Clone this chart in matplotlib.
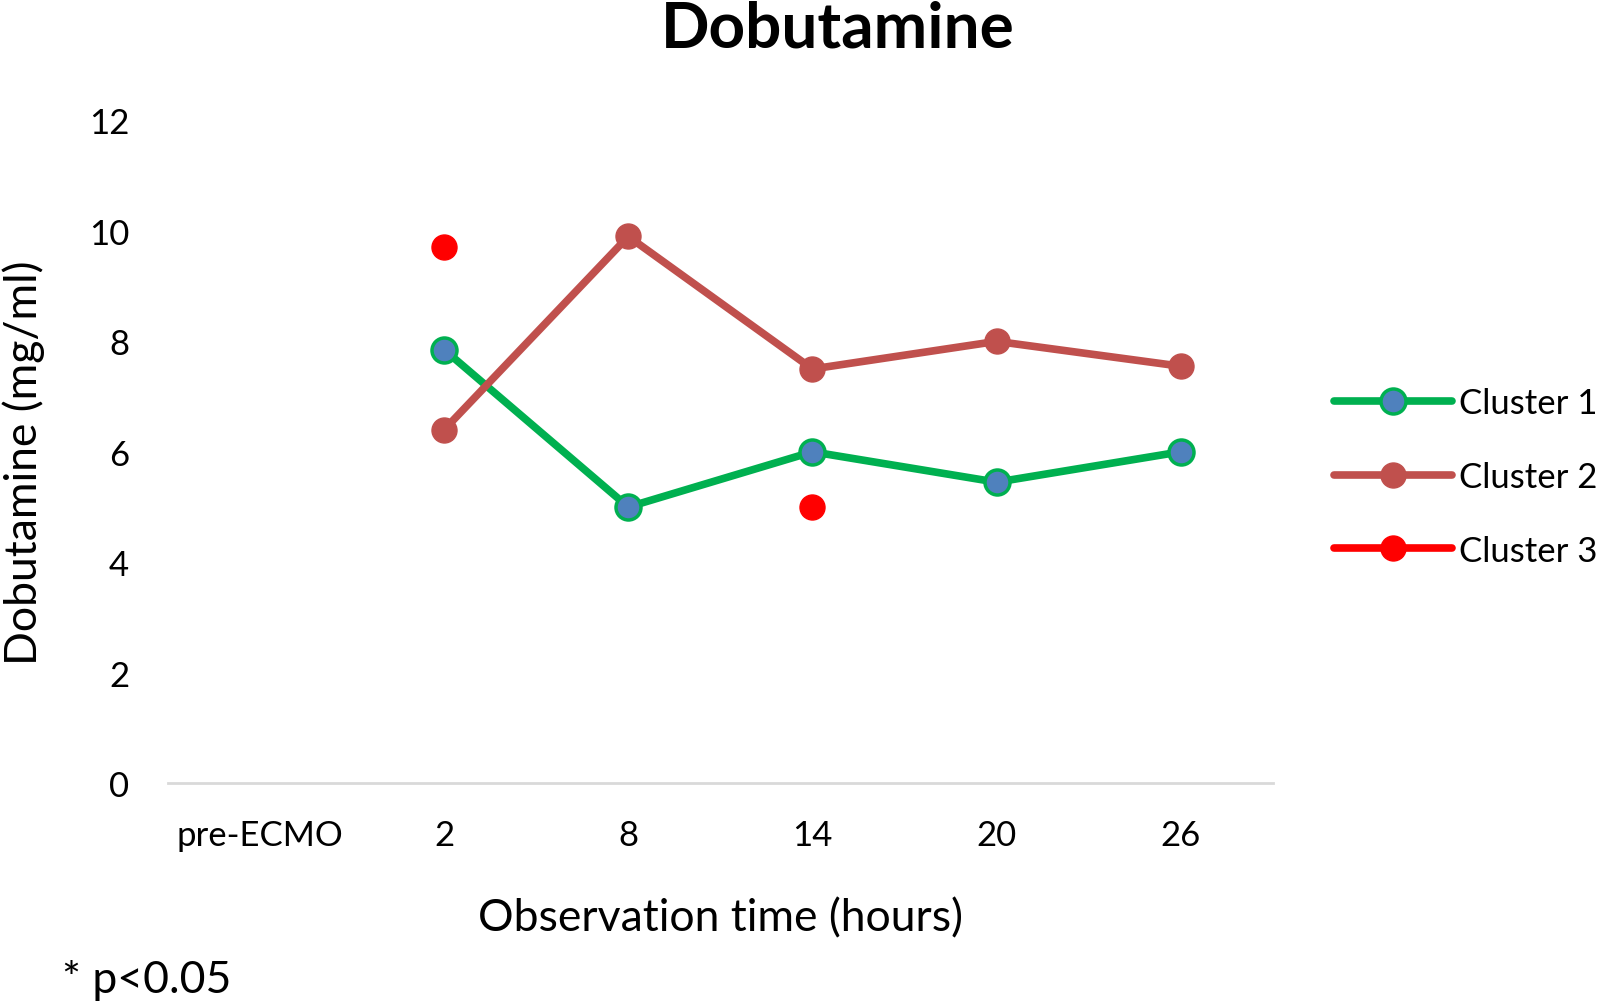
import numpy as np
import matplotlib.pyplot as plt

plt.rcParams['font.family'] = ['Lato', 'DejaVu Sans']

# data
categories = ["pre-ECMO", "2", "8", "14", "20", "26"]
cluster1 = [np.nan, 7.85, 5.0, 6.0, 5.45, 6.0]
cluster2 = [np.nan, 6.4, 9.9, 7.5, 8.0, 7.55]
cluster3 = [np.nan, 9.7, np.nan, 5.0, np.nan, np.nan]
yticks = [0, 2, 4, 6, 8, 10, 12]

x = np.arange(len(categories))

fig = plt.figure(figsize=(15.99, 10.04), dpi=100)
ax = fig.add_axes([0.105, 0.219, 0.691, 0.66])

ax.plot(x, cluster1, color="#00B050", lw=5.5, marker="o", markersize=18,
        markerfacecolor="#4F81BD", markeredgecolor="#00B050", markeredgewidth=2.5,
        label="Cluster 1", solid_capstyle="round")
ax.plot(x, cluster2, color="#C0504D", lw=5.5, marker="o", markersize=18,
        markerfacecolor="#C0504D", markeredgecolor="#C0504D",
        label="Cluster 2", solid_capstyle="round")
ax.plot(x, cluster3, color="#FF0000", lw=5.5, marker="o", markersize=18,
        markerfacecolor="#FF0000", markeredgecolor="#FF0000",
        label="Cluster 3", solid_capstyle="round")

ax.set_xlim(-0.5, len(categories) - 0.5)
ax.set_ylim(0, 12)
ax.set_xticks(x)
ax.set_xticklabels(categories)
ax.set_yticks(yticks)
ax.tick_params(length=0, labelsize=25)
ax.tick_params(axis="x", pad=26)
ax.tick_params(axis="y", pad=28)
for s in ["top", "right", "left"]:
    ax.spines[s].set_visible(False)
ax.spines["bottom"].set_color("#D9D9D9")
ax.spines["bottom"].set_linewidth(2)

ax.set_xlabel("Observation time (hours)", fontsize=32, labelpad=33)
ax.set_ylabel("Dobutamine (mg/ml)", fontsize=32)
ax.yaxis.set_label_coords(-0.111, 0.485)

fig.text(0.524, 0.971, "Dobutamine", fontsize=46, fontweight="bold",
         ha="center", va="center")
fig.text(0.039, 0.023, "* p<0.05", fontsize=32, ha="left", va="center")

leg = ax.legend(loc="center left", bbox_to_anchor=(0.834, 0.524),
                bbox_transform=fig.transFigure, frameon=False,
                fontsize=25, handlelength=3.4, handletextpad=0.2, labelspacing=1.2,
                borderaxespad=0, borderpad=0)

fig.savefig("out.png", dpi=100)
